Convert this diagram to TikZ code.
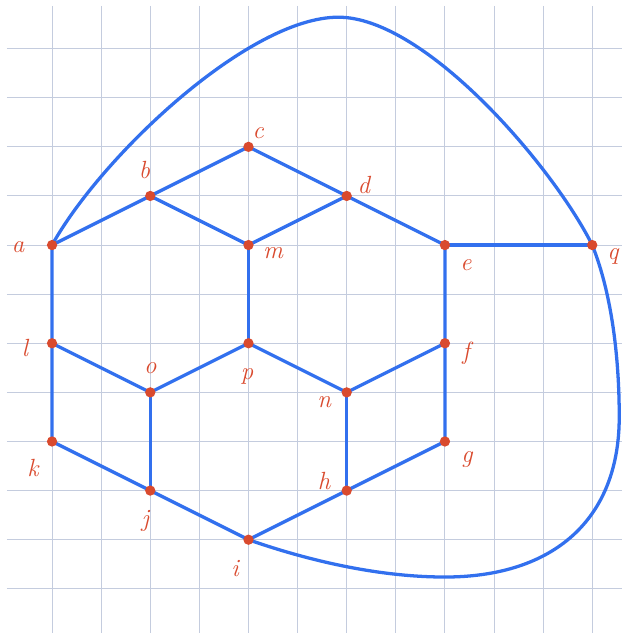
\documentclass[tikz,border=0pt]{standalone}
\usepackage{xcolor}
\usepackage{tikz}
\definecolor{gridc}{RGB}{196,204,222}
\definecolor{edgec}{RGB}{50,112,238}
\definecolor{dotc}{RGB}{217,74,46}

\begin{document}
\begin{tikzpicture}[
		edge/.style={edgec,line width=1.9pt,line cap=round,line join=round},
		dot/.style={circle,fill=dotc,inner sep=0pt,minimum size=2.1mm},
		lbl/.style={dotc,font=\Large\itshape,inner sep=0pt}
	]
		\useasboundingbox (-1.06,-7.90) rectangle (11.61,4.99);
		% grid
		\foreach \x in {0,...,11}
			\draw[gridc,line width=0.6pt] (\x,4.87) -- (\x,-7.90);
		\foreach \y in {-7,...,4}
			\draw[gridc,line width=0.6pt] (-0.92,\y) -- (11.61,\y);
		% vertices
		\coordinate (a) at (0,0);
		\coordinate (b) at (2,1);
		\coordinate (c) at (4,2);
		\coordinate (d) at (6,1);
		\coordinate (e) at (8,0);
		\coordinate (m) at (4,0);
		\coordinate (q) at (11,0);
		\coordinate (l) at (0,-2);
		\coordinate (p) at (4,-2);
		\coordinate (f) at (8,-2);
		\coordinate (o) at (2,-3);
		\coordinate (n) at (6,-3);
		\coordinate (k) at (0,-4);
		\coordinate (g) at (8,-4);
		\coordinate (j) at (2,-5);
		\coordinate (h) at (6,-5);
		\coordinate (i) at (4,-6);
		\coordinate (top) at (5.83,4.64);
		\coordinate (east) at (11.55,-3.5);
		\coordinate (low) at (8,-6.76);
		% edges
		\draw[edge] (a) -- (b) -- (c) -- (d) -- (e) -- (f) -- (g) -- (h) -- (i) -- (j) -- (k) -- (l) -- (a);
		\draw[edge] (b) -- (m) -- (d);
		\draw[edge] (m) -- (p);
		\draw[edge] (l) -- (o) -- (p) -- (n) -- (f);
		\draw[edge] (o) -- (j);
		\draw[edge] (n) -- (h);
		\draw[edge] (e) -- (q);
		\draw[edge] (a) .. controls (1.0,1.8) and (4.0,4.64) .. (top)
			.. controls (7.6,4.64) and (10.2,1.6) .. (q);
		\draw[edge] (q) .. controls (11.4,-1.0) and (11.55,-2.3) .. (east)
			.. controls (11.55,-5.6) and (10.2,-6.76) .. (low)
			.. controls (6.5,-6.76) and (5,-6.35) .. (i);
		% dots
		\foreach \v in {a,b,c,d,e,f,g,h,i,j,k,l,m,n,o,p,q}
			\node[dot] (\v-dot) at (\v) {};
		% labels
		\node[lbl] (a-lab) at (-0.69,-0.04) {a};
		\node[lbl] (b-lab) at (1.88,1.53) {b};
		\node[lbl] (c-lab) at (4.2,2.28) {c};
		\node[lbl] (d-lab) at (6.35,1.22) {d};
		\node[lbl] (e-lab) at (8.43,-0.41) {e};
		\node[lbl] (m-lab) at (4.5,-0.17) {m};
		\node[lbl] (q-lab) at (11.42,-0.24) {q};
		\node[lbl] (l-lab) at (-0.55,-2.1) {l};
		\node[lbl] (o-lab) at (2,-2.5) {o};
		\node[lbl] (p-lab) at (3.97,-2.67) {p};
		\node[lbl] (f-lab) at (8.43,-2.2) {f};
		\node[lbl] (n-lab) at (5.54,-3.2) {n};
		\node[lbl] (k-lab) at (-0.39,-4.54) {k};
		\node[lbl] (g-lab) at (8.45,-4.36) {g};
		\node[lbl] (h-lab) at (5.54,-4.81) {h};
		\node[lbl] (j-lab) at (1.9,-5.62) {j};
		\node[lbl] (i-lab) at (3.73,-6.58) {i};
	\end{tikzpicture}
\end{document}
